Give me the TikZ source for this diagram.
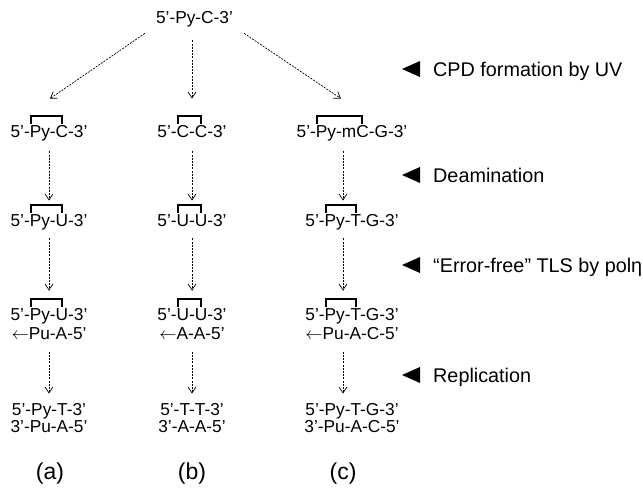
\documentclass[tikz,border=0pt]{standalone}
\usepackage{fontspec}
\setmainfont{Liberation Sans}
\usetikzlibrary{arrows.meta,positioning}

\newcommand\dnafont{\fontsize{17.3}{20}\selectfont}
\newcommand\stepfont{\fontsize{19.8}{22}\selectfont}
\newcommand\capfont{\fontsize{23}{26}\selectfont}
% bracket over the two bases of a dimer
\newcommand\dimer[3]{\draw[dimer] ([xshift=#2pt,yshift=1pt]#1.north west) -- ++(0,-8) -| ([xshift=#3pt,yshift=1pt]#1.north west);}

\tikzset{
dna/.style={font=\dnafont, inner sep=0pt, text height=12.4pt, text depth=0pt},
stepnote/.style={font=\stepfont, inner sep=0pt, anchor=west, text height=14.2pt, text depth=0pt},
caption/.style={font=\capfont},
flow/.style={line width=0.7pt, dash pattern=on 2pt off 1.2pt,
  -{Straight Barb[length=6pt,width=8pt,line width=0.7pt]}},
dimer/.style={line width=2pt},
}

\begin{document}
\begin{tikzpicture}[x=1pt, y=-1pt]
\useasboundingbox[fill=white] (0,0) rectangle (643,492);

\node[dna] (pyc) at (194.5,17) {5'-Py-C-3'};

% CPD
\node[dna] (a1) at (49,131) {5'-Py-C-3'};
\node[dna] (b1) at (192,131) {5'-C-C-3'};
\node[dna] (c1) at (352,131) {5'-Py-mC-G-3'};
\dimer{a1}{20.6}{51.4}
\dimer{b1}{20.4}{43.7}
\dimer{c1}{20.6}{65.8}

% deaminated
\node[dna] (a2) at (49,220) {5'-Py-U-3'};
\node[dna] (b2) at (192,220) {5'-U-U-3'};
\node[dna] (c2) at (352,220) {5'-Py-T-G-3'};
\dimer{a2}{20.6}{51.4}
\dimer{b2}{20.4}{43.7}
\dimer{c2}{20.6}{50.5}

% bypass
\node[dna] (a3) at (49,314) {5'-Py-U-3'};
\node[dna] (b3) at (192,314) {5'-U-U-3'};
\node[dna] (c3) at (352,314) {5'-Py-T-G-3'};
\dimer{a3}{20.6}{51.4}
\dimer{b3}{20.4}{43.7}
\dimer{c3}{20.6}{50.5}
\node[dna, below=6.5pt of a3] (a3b) {$\leftarrow$Pu-A-5'};
\node[dna, below=6.5pt of b3] (b3b) {$\leftarrow$A-A-5'};
\node[dna, below=6.5pt of c3] (c3b) {$\leftarrow$Pu-A-C-5'};

% replicated
\node[dna] (a4) at (49,409) {5'-Py-T-3'};
\node[dna] (b4) at (192,409) {5'-T-T-3'};
\node[dna] (c4) at (352,409) {5'-Py-T-G-3'};
\node[dna, below=4.8pt of a4] (a4b) {3'-Pu-A-5'};
\node[dna, below=4.8pt of b4] (b4b) {3'-A-A-5'};
\node[dna, below=4.8pt of c4] (c4b) {3'-Pu-A-C-5'};

\node[caption] (capa) at (50,474) {(a)};
\node[caption] (capb) at (192,474) {(b)};
\node[caption] (capc) at (343,474) {(c)};

% arrows
\draw[flow] ([shift={(-11,10)}]pyc.south west) -- ([shift={(1,-26)}]a1.north);
\draw[flow, shorten <=17pt, shorten >=26pt] (pyc.south -| b1.north) -- (b1.north);
\draw[flow] ([shift={(11,10)}]pyc.south east) -- ([shift={(-11,-26)}]c1.north);
\foreach \col/\dx in {a/0,b/0,c/-9}{
  \draw[flow, shorten <=14pt, shorten >=13pt] ([xshift=\dx pt]\col1.south) -- ([xshift=\dx pt]\col2.north);
  \draw[flow, shorten <=12pt, shorten >=17pt] ([xshift=\dx pt]\col2.south) -- ([xshift=\dx pt]\col3.north);
  \draw[flow, shorten <=12pt, shorten >=9pt] ([xshift=\dx pt]\col3b.south) -- ([xshift=\dx pt]\col4.north);
}

% steps
\node[stepnote] (uv) at (433,69) {CPD formation by UV};
\node[stepnote] (deam) at (433,175) {Deamination};
\node[stepnote] (tls) at (433,265) {“Error-free” TLS by polη};
\node[stepnote] (repl) at (433,375) {Replication};
\foreach \s in {uv,deam,tls,repl}
  \fill ([shift={(-13,-8)}]\s.west) -- ++(0,16) -- ++(-18,-8) -- cycle;
\end{tikzpicture}
\end{document}
